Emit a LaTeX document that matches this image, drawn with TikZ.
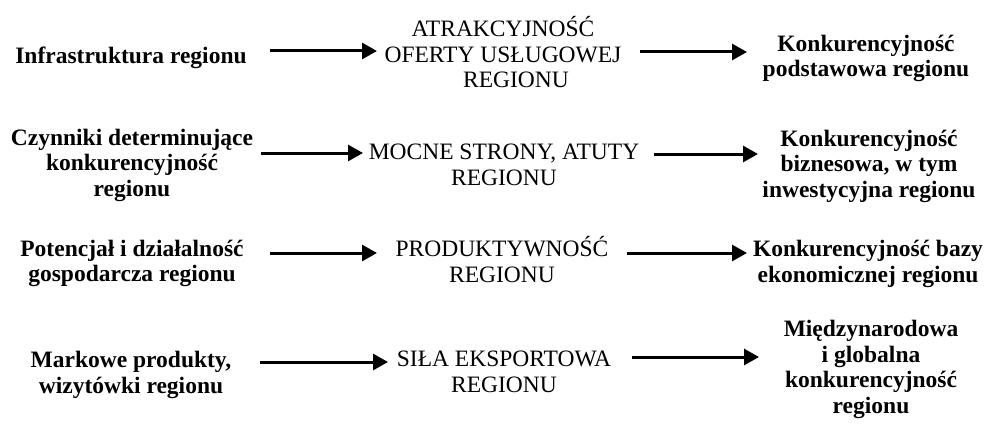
\documentclass[tikz,border=0pt]{standalone}
\usepackage{fontspec}
\setmainfont{Liberation Serif}
\usetikzlibrary{arrows.meta}
\begin{document}
\begin{tikzpicture}[x=1pt,y=-1pt,
  txt/.style={inner sep=0pt,align=center,anchor=base,
    font=\fontsize{23.5}{25.5}\selectfont},
  cause/.style={txt,font=\fontsize{23.5}{25.5}\selectfont\bfseries},
  effect/.style={txt,font=\fontsize{23.5}{25.5}\selectfont\bfseries},
  link/.style={line width=3pt,-{Triangle[length=15pt,width=16pt]}}]
\useasboundingbox (0,0) rectangle (990,425);

% left column: factors
\node[cause] (L1) at (131,63.5) {Infrastruktura regionu};
\node[cause] (L2) at (132,196) {Czynniki determinujące\\konkurencyjność\\regionu};
\node[cause] (L3) at (132,281.5) {Potencjał i działalność\\gospodarcza regionu};
\node[cause] (L4) at (131,393) {Markowe produkty,\\wizytówki regionu};

% middle column: features
\node[txt] (M1) at (503,88) {ATRAKCYJNOŚĆ\\OFERTY USŁUGOWEJ\\\hspace*{26pt}REGIONU};
\node[txt] (M2) at (504,185) {MOCNE STRONY, ATUTY\\REGIONU};
\node[txt] (M3) at (502,282) {PRODUKTYWNOŚĆ\\REGIONU};
\node[txt] (M4) at (504,392) {SIŁA EKSPORTOWA\\REGIONU};

% right column: kinds of competitiveness
\node[effect] (R1) at (866,77) {Konkurencyjność\\podstawowa regionu};
\node[effect] (R2) at (869,197) {Konkurencyjność\\biznesowa, w tym\\inwestycyjna regionu};
\node[effect] (R3) at (868,282) {Konkurencyjność bazy\\ekonomicznej regionu};
\node[effect] (R4) at (871,413) {Międzynarodowa\\i globalna\\konkurencyjność\\regionu};

% arrow end points
\coordinate (a1s) at (270,51);  \coordinate (a1e) at (377,51);
\coordinate (b1s) at (640,52);  \coordinate (b1e) at (747,52);
\coordinate (a2s) at (261,153); \coordinate (a2e) at (363,153);
\coordinate (b2s) at (654,154); \coordinate (b2e) at (758,154);
\coordinate (a3s) at (270,253); \coordinate (a3e) at (377,253);
\coordinate (b3s) at (627,253); \coordinate (b3e) at (747,253);
\coordinate (a4s) at (260,362); \coordinate (a4e) at (388,362);
\coordinate (b4s) at (632,357); \coordinate (b4e) at (759,357);

\draw[link] (a1s) -- (a1e);
\draw[link] (b1s) -- (b1e);
\draw[link] (a2s) -- (a2e);
\draw[link] (b2s) -- (b2e);
\draw[link] (a3s) -- (a3e);
\draw[link] (b3s) -- (b3e);
\draw[link] (a4s) -- (a4e);
\draw[link] (b4s) -- (b4e);
\end{tikzpicture}
\end{document}
